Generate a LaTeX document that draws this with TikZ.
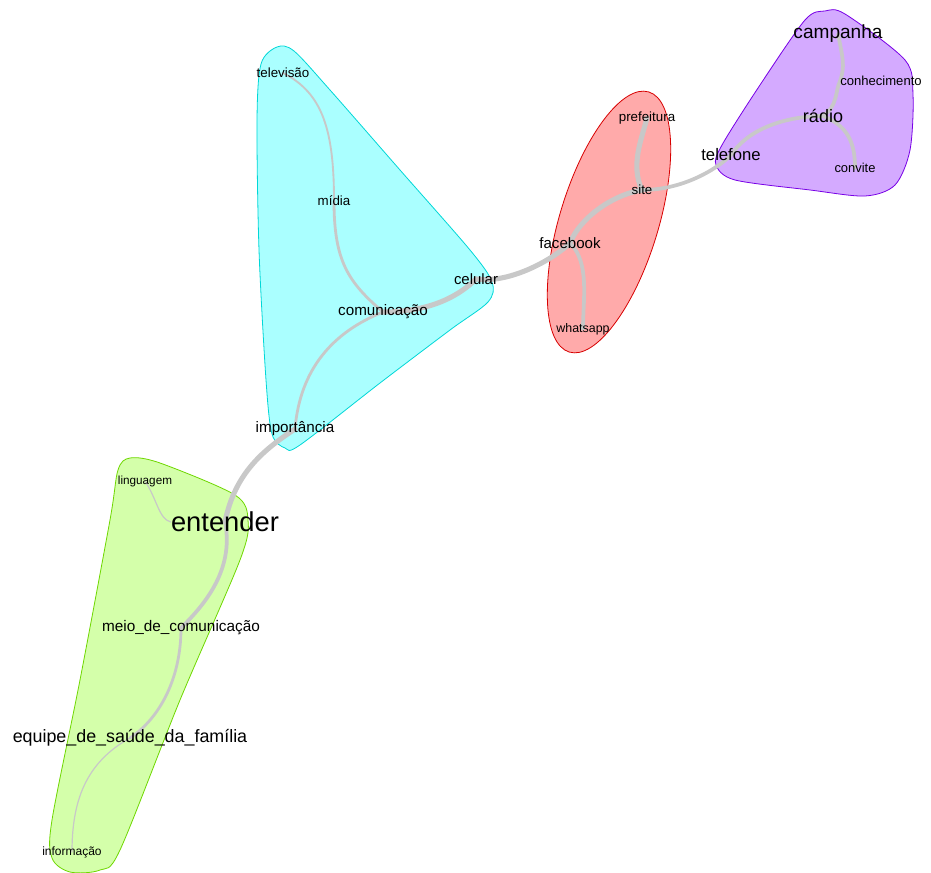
\documentclass[tikz,border=0pt]{standalone}
\usepackage{fontspec}
\setmainfont{Liberation Sans}

\pgfdeclarelayer{hulls}
\pgfdeclarelayer{edges}
\pgfsetlayers{hulls,edges,main}

\definecolor{cyanfill}{RGB}{170,255,255}
\definecolor{cyanline}{RGB}{0,215,215}
\definecolor{redfill}{RGB}{255,170,170}
\definecolor{redline}{RGB}{215,0,0}
\definecolor{lilacfill}{RGB}{212,170,255}
\definecolor{lilacline}{RGB}{120,0,230}
\definecolor{limefill}{RGB}{212,255,170}
\definecolor{limeline}{RGB}{110,215,0}
\definecolor{linkgray}{RGB}{200,200,200}

\tikzset{
  word/.style={inner sep=0pt, text=black},
  sz/.style={font=\fontsize{#1}{#1}\selectfont},
  link/.style={draw=linkgray, line cap=round},
  fat/.style={link, line width=3.8pt},
  mid/.style={link, line width=2.8pt},
  slim/.style={link, line width=2.1pt},
  thin/.style={link, line width=1.4pt},
  hair/.style={link, line width=0.9pt},
  hull/.style={line width=0.6pt}
}

\begin{document}
\begin{tikzpicture}[x=0.75pt, y=-0.75pt]
\useasboundingbox (0,0) rectangle (931,873);

% words
\node[word, sz=10] (tv) at (283,73) {televisão};
\node[word, sz=10] (mid) at (334,201) {mídia};
\node[word, sz=11.4] (com) at (383,312) {comunicação};
\node[word, sz=11.2] (cel) at (476,279) {celular};
\node[word, sz=11.4] (imp) at (295,429) {importância};
\node[word, sz=11.3] (fb) at (570,243) {facebook};
\node[word, sz=10] (site) at (642,190) {site};
\node[word, sz=10] (pref) at (647,118) {prefeitura};
\node[word, sz=9.3] (whats) at (583,329) {whatsapp};
\node[word, sz=12.5] (tel) at (731,155) {telefone};
\node[word, sz=13.5] (rad) at (823,116) {rádio};
\node[word, sz=14.3] (camp) at (838,34) {campanha};
\node[word, sz=9.8] (conh) at (881,81) {conhecimento};
\node[word, sz=9.7] (conv) at (855,168) {convite};
\node[word, sz=8.8] (ling) at (145,481) {linguagem};
\node[word, sz=20.5] (ent) at (225,522) {entender};
\node[word, sz=11.5] (meio) at (181,628) {meio\_de\_comunicação};
\node[word, sz=13.4] (equipe) at (130,738) {equipe\_de\_saúde\_da\_família};
\node[word, sz=9] (info) at (72,852) {informação};

% communities
\begin{pgfonlayer}{hulls}
\filldraw[hull, fill=cyanfill, draw=cyanline] plot[smooth cycle, tension=0.5] coordinates {
  (261,64) (277,47) (294,51) (330,90) (400,170) (470,250) (492,282) (488,302)
  (450,330) (380,383) (300,445) (285,448) (272,434) (266,380) (259,250) (257,120)};
\filldraw[hull, fill=redfill, draw=redline] (609,222) ellipse [x radius=102pt, y radius=37pt, rotate=73];
\filldraw[hull, fill=lilacfill, draw=lilacline] plot[smooth cycle, tension=0.5] coordinates {
  (805,20) (825,11) (845,14) (905,60) (913,95) (910,150) (895,185) (865,196)
  (810,190) (735,180) (716,165) (722,145) (760,85)};
\filldraw[hull, fill=limefill, draw=limeline] plot[smooth cycle, tension=0.5] coordinates {
  (118,470) (130,458) (160,463) (235,495) (248,520) (240,560) (180,700) (120,850)
  (100,870) (70,872) (52,858) (52,820) (80,680) (110,520)};
\end{pgfonlayer}

% links
\begin{pgfonlayer}{edges}
\draw[thin] (tv.center) .. controls +(40,20) and +(0,-70) .. (mid.center);
\draw[slim] (mid.center) .. controls +(0,60) and +(-35,-30) .. (com.center);
\draw[fat] (com.center) .. controls +(50,0) and +(-15,15) .. (cel.center);
\draw[slim] (com.center) .. controls +(-50,20) and +(5,-60) .. (imp.center);
\draw[fat] (imp.center) .. controls +(-30,20) and +(10,-50) .. (ent.center);
\draw[mid] (ent.center) .. controls +(10,50) and +(20,-20) .. (meio.center);
\draw[hair] (ling.center) .. controls +(12,18) and +(-12,-3) .. (ent.west);
\draw[slim] (meio.center) .. controls +(0,50) and +(30,-20) .. (equipe.center);
\draw[hair] (equipe.center) .. controls +(-45,25) and +(0,-50) .. (info.center);
\draw[fat] (cel.center) .. controls +(35,5) and +(-15,15) .. (fb.center);
\draw[fat] (fb.center) .. controls +(10,-25) and +(-30,5) .. (site.center);
\draw[mid] (fb.center) .. controls +(20,20) and +(0,-30) .. (whats.center);
\draw[fat] (site.center) .. controls +(-12,-25) and +(-5,20) .. (pref.center);
\draw[mid] (site.center) .. controls +(40,0) and +(-15,15) .. (tel.center);
\draw[mid] (tel.center) .. controls +(20,-30) and +(-30,0) .. (rad.center);
\draw[mid] (rad.center) .. controls +(15,-10) and +(-5,10) .. (conh.west);
\draw[mid] (conh.west) .. controls +(5,-15) and +(5,25) .. (camp.center);
\draw[mid] (rad.center) .. controls +(25,10) and +(0,-25) .. (conv.center);
\end{pgfonlayer}
\end{tikzpicture}
\end{document}
